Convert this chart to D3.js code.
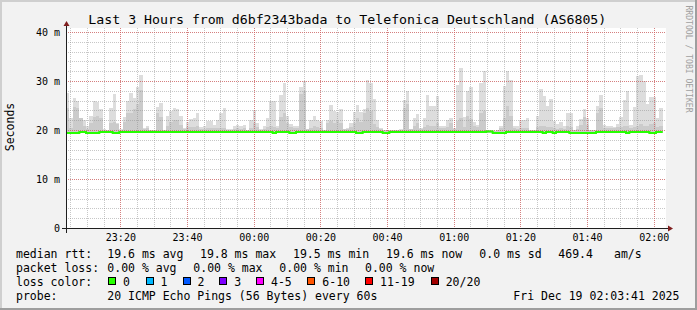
<!DOCTYPE html>
<html><head><meta charset="utf-8">
<script src="https://cdn.jsdelivr.net/npm/d3@7"></script>
<style>
body{margin:0;background:#f2f2f2}
svg{display:block}
text{font-family:'DejaVu Sans Mono',monospace;fill:#000}
</style>
</head><body>
<svg id="c" width="697" height="310"></svg>
<script>
// ---------- data ----------
const title = "Last 3 Hours from d6bf2343bada to Telefonica Deutschland (AS6805)";
const yTicks = [0, 10, 20, 30, 40];
const yTickLabels = ["0", "10 m", "20 m", "30 m", "40 m"];
const xTickLabels = ["23:20", "23:40", "00:00", "00:20", "00:40", "01:00", "01:20", "01:40", "02:00"];
const smokeMin = 19.4;
const smokeMax = [27.7,22.6,26.6,26.0,22.6,22.2,21.0,22.9,26.1,25.8,24.3,20.3,20.2,24.6,27.5,21.6,20.3,22.8,26.0,27.7,
26.7,28.9,31.3,20.5,21.0,20.1,20.2,24.8,25.6,20.2,22.9,23.9,24.6,24.3,22.9,20.5,21.7,22.4,22.6,23.6,
20.7,20.9,21.9,21.9,21.2,22.2,23.6,24.5,20.3,20.3,20.9,21.2,20.9,21.1,20.2,22.2,24.1,21.6,20.3,20.9,
22.6,26.1,26.1,21.0,27.2,29.6,22.9,21.4,20.9,20.9,28.9,30.1,20.3,22.1,22.9,22.1,21.9,20.2,22.2,25.3,
23.9,23.7,24.3,20.3,20.5,21.6,23.7,25.3,23.7,24.3,30.3,29.7,26.5,22.1,20.5,20.1,20.1,20.2,20.2,20.2,
20.3,26.3,28.0,20.3,22.6,23.3,20.5,22.6,27.2,25.1,25.1,27.1,20.9,20.9,22.2,22.6,20.5,29.2,32.8,22.8,
28.0,28.9,21.7,21.2,29.7,32.1,20.1,20.1,19.9,20.2,21.0,29.0,32.1,30.4,20.9,20.9,22.1,22.2,22.6,20.2,
20.2,22.9,28.5,27.0,25.1,26.5,21.9,21.4,21.7,20.9,23.6,23.5,20.2,21.0,22.4,24.4,22.6,20.2,20.1,25.1,
27.3,21.2,21.0,20.9,20.7,21.4,22.8,26.2,28.0,21.2,24.8,31.2,31.4,30.1,25.5,26.9,26.9,22.6,24.6];
const smokeMid = [24.5,20.6,24.8,24.5,22.5,21.0,20.3,21.5,22.8,23.0,22.5,20.2,20.2,21.5,21.8,21.4,20.2,21.8,23.5,23.5,
24.3,25.5,28.2,20.4,20.5,20.1,20.1,23.6,22.8,20.1,20.9,21.8,22.2,22.2,21.2,20.3,20.8,20.8,20.8,21.0,
20.4,20.4,20.6,20.6,20.6,20.5,20.5,20.5,20.2,20.2,20.3,20.6,20.4,20.6,20.2,20.5,21.5,20.8,20.2,20.4,
20.8,21.0,20.8,20.6,22.7,23.5,21.5,20.8,20.5,20.5,27.5,28.0,20.3,20.6,20.9,20.7,20.5,20.2,21.5,22.0,
21.5,22.0,21.5,20.3,20.4,20.8,21.5,22.5,21.8,23.5,24.5,24.0,21.3,20.8,20.3,20.1,20.1,20.2,20.2,20.2,
20.2,24.5,25.5,20.3,21.0,21.5,20.4,20.8,21.2,20.9,20.9,21.5,20.5,20.5,20.8,21.5,20.4,22.0,22.5,20.8,
23.0,22.3,21.0,20.8,23.5,24.0,20.1,20.1,19.9,20.1,20.5,22.5,25.0,23.0,20.5,20.4,20.5,20.6,20.6,20.2,
20.2,20.7,21.0,21.0,20.8,20.8,20.5,20.4,20.6,20.4,20.9,20.8,20.2,20.4,21.2,22.8,21.2,20.2,20.1,23.5,
24.5,20.6,20.5,20.5,20.5,20.8,20.8,21.0,21.0,20.5,20.8,20.9,21.4,21.0,21.0,21.3,21.5,20.7,21.0];
const median = [19.5,19.5,19.5,19.5,19.7,19.7,19.5,19.5,19.5,19.5,19.7,19.7,19.7,19.7,19.5,19.5,19.7,19.7,19.7,19.7,
19.7,19.7,19.7,19.7,19.7,19.7,19.7,19.7,19.7,19.7,19.7,19.7,19.7,19.7,19.7,19.7,19.7,19.7,19.7,19.7,
19.7,19.7,19.7,19.7,19.7,19.7,19.7,19.7,19.7,19.7,19.7,19.7,19.7,19.7,19.7,19.7,19.7,19.7,19.7,19.7,
19.7,19.7,19.5,19.7,19.7,19.7,19.7,19.5,19.5,19.7,19.7,19.7,19.7,19.7,19.7,19.7,19.7,19.7,19.7,19.7,
19.7,19.7,19.7,19.7,19.7,19.7,19.7,19.5,19.5,19.7,19.7,19.7,19.7,19.7,19.7,19.5,19.5,19.7,19.7,19.7,
19.7,19.7,19.7,19.7,19.7,19.7,19.7,19.7,19.7,19.7,19.7,19.7,19.7,19.7,19.7,19.7,19.7,19.7,19.7,19.7,
19.7,19.7,19.7,19.7,19.7,19.7,19.8,19.8,19.5,19.5,19.5,19.5,19.7,19.7,19.7,19.7,19.7,19.7,19.7,19.7,
19.7,19.7,19.7,19.5,19.7,19.7,19.5,19.7,19.7,19.7,19.7,19.5,19.5,19.5,19.5,19.5,19.5,19.5,19.5,19.7,
19.7,19.7,19.7,19.7,19.7,19.7,19.7,19.7,19.5,19.7,19.7,19.7,19.7,19.7,19.7,19.5,19.5,19.7,19.7];
const rttLabel = "median rtt:";
const rttStats = ["19.6 ms avg", "19.8 ms max", "19.5 ms min", "19.6 ms now", "0.0 ms sd", "469.4", "am/s"];
const lossLabel = "packet loss:";
const lossStats = ["0.00 % avg", "0.00 % max", "0.00 % min", "0.00 % now"];
const lossColorLabel = "loss color:";
const lossNames = ["0", "1", "2", "3", "4-5", "6-10", "11-19", "20/20"];
const lossColors = ["#26ff00", "#00b8ff", "#0059ff", "#7e00ff", "#ff00ff", "#ff5500", "#ff0000", "#a10000"];
const probeLabel = "probe:";
const probeText = "20 ICMP Echo Pings (56 Bytes) every 60s";
const stampText = "Fri Dec 19 02:03:41 2025";
const yTitle = "Seconds";
const watermark = "RRDTOOL / TOBI OETIKER";

// ---------- layout ----------
const W = 697, H = 310;
const X0 = 66, XS = 600, Y0 = 228.5, YTOP = 28;
const tStart = new Date(2025, 11, 18, 23, 3, 41);
const tEnd = new Date(2025, 11, 19, 2, 3, 41);
const x = d3.scaleTime().domain([tStart, tEnd]).range([X0, X0 + XS]);
const y = d3.scaleLinear().domain([0, 40]).range([Y0, 32.5]);
const stepT = i => new Date(tStart.getTime() + i * 60000);

const svg = d3.select("#c");
svg.append("rect").attr("width", W).attr("height", H).attr("fill", "#f2f2f2");
svg.append("path").attr("d", `M0,0H${W}V2H2V${H}H0Z`).attr("fill", "#cfcfcf");
svg.append("path").attr("d", `M${W},${H}H0V${H-2}H${W-2}V0H${W}Z`).attr("fill", "#9e9e9e");
svg.append("rect").attr("x", X0).attr("y", YTOP).attr("width", XS).attr("height", Y0 - YTOP).attr("fill", "#fff");

// smoke
const g = svg.append("g").attr("shape-rendering", "crispEdges");
const idx = d3.range(smokeMax.length);
g.selectAll("rect.l").data(idx).join("rect")
  .attr("x", i => x(stepT(i))).attr("width", i => x(stepT(i + 1)) - x(stepT(i)))
  .attr("y", i => y(smokeMax[i])).attr("height", i => y(smokeMin) - y(smokeMax[i]))
  .attr("fill", "#dddddd");
g.selectAll("rect.m").data(idx).join("rect")
  .attr("x", i => x(stepT(i))).attr("width", i => x(stepT(i + 1)) - x(stepT(i)))
  .attr("y", i => y(smokeMid[i])).attr("height", i => y(smokeMin) - y(smokeMid[i]))
  .attr("fill", "#cbcbcb");

// grid
const minorT = d3.timeMinute.every(5).range(tStart, tEnd);
const majorT = d3.timeMinute.every(20).range(tStart, tEnd);
const gridG = svg.append("g").attr("shape-rendering", "crispEdges");
const minorCol = "rgba(143,143,143,0.5)", majorCol = "rgba(222,79,79,0.6)";
minorT.forEach(t => {
  const px = Math.round(x(t)) + 0.5;
  gridG.append("line").attr("x1", px).attr("x2", px).attr("y1", YTOP).attr("y2", Y0)
    .attr("stroke", minorCol).attr("stroke-dasharray", "1,1");
});
d3.range(0, 41, 2).forEach(v => {
  const py = Math.round(y(v) - 0.5) + 0.5;
  gridG.append("line").attr("x1", X0).attr("x2", X0 + XS).attr("y1", py).attr("y2", py)
    .attr("stroke", minorCol).attr("stroke-dasharray", "1,1");
});
majorT.forEach(t => {
  const px = Math.round(x(t)) + 0.5;
  gridG.append("line").attr("x1", px).attr("x2", px).attr("y1", YTOP).attr("y2", Y0)
    .attr("stroke", majorCol).attr("stroke-dasharray", "1,1");
});
yTicks.forEach(v => {
  const py = Math.round(y(v) - 0.5) + 0.5;
  gridG.append("line").attr("x1", X0).attr("x2", X0 + XS).attr("y1", py).attr("y2", py)
    .attr("stroke", majorCol).attr("stroke-dasharray", "1,1");
});

// median line
const pts = idx.map(i => [x(stepT(i)), y(median[i])]);
pts.push([x(stepT(median.length)), y(median[median.length - 1])]);
svg.append("path").attr("d", d3.line().curve(d3.curveStepAfter)(pts))
  .attr("fill", "none").attr("stroke", lossColors[0]).attr("stroke-width", 2);

// axes
svg.append("line").attr("x1", X0 - 4).attr("x2", X0 + XS + 4).attr("y1", Y0).attr("y2", Y0)
  .attr("stroke", "#1f1f1f").attr("shape-rendering", "crispEdges");
svg.append("line").attr("x1", X0 + 0.5).attr("x2", X0 + 0.5).attr("y1", Y0 + 4).attr("y2", YTOP - 4)
  .attr("stroke", "#1f1f1f").attr("shape-rendering", "crispEdges");
svg.append("path").attr("d", `M${X0 + XS + 2},${Y0 - 3}L${X0 + XS + 7},${Y0}L${X0 + XS + 2},${Y0 + 3}Z`).attr("fill", "#801f1f");
svg.append("path").attr("d", `M${X0 - 2.5},${YTOP - 2}L${X0 + 0.5},${YTOP - 7}L${X0 + 3.5},${YTOP - 2}Z`).attr("fill", "#801f1f");

// y tick labels
yTicks.forEach((v, i) => {
  svg.append("text").attr("x", 60).attr("y", y(v) + 3.6).attr("text-anchor", "end")
    .attr("font-size", "10px").text(yTickLabels[i]);
});
// x tick labels
majorT.forEach((t, i) => {
  svg.append("text").attr("x", x(t) + 0.5).attr("y", 241).attr("text-anchor", "middle")
    .attr("font-size", "10px").text(xTickLabels[i]);
});

// title
svg.append("text").attr("x", 88.3).attr("y", 24)
  .attr("font-size", "13px").attr("textLength", 518).attr("lengthAdjust", "spacingAndGlyphs").text(title);
// y title
svg.append("text").attr("transform", "translate(14,127) rotate(-90)").attr("text-anchor", "middle")
  .attr("font-size", "11.5px").text(yTitle);
// watermark
svg.append("text").attr("transform", "translate(685.5,59) rotate(90)").attr("text-anchor", "middle")
  .attr("font-size", "8.1px").style("fill", "#a0a0a0").text(watermark);

// legend
const LF = "11.5px";
const leg = (txt, px, py) => svg.append("text").attr("x", px).attr("y", py).attr("font-size", LF)
  .attr("xml:space", "preserve").text(txt);
leg(rttLabel, 16, 258.3);
[107.3, 200, 293, 386, 479.3, 558.3, 614].forEach((px, i) => leg(rttStats[i], px, 258.3));
leg(lossLabel, 16, 272.3);
[107.3, 193.3, 279.3, 365].forEach((px, i) => leg(lossStats[i], px, 272.3));
leg(lossColorLabel, 16, 286);
[108, 145.5, 182.5, 219.3, 256, 307.3, 365, 430.7].forEach((px, i) => {
  svg.append("rect").attr("x", Math.round(px) + 0.5).attr("y", 277).attr("width", 7).attr("height", 7)
    .attr("fill", lossColors[i]).attr("stroke", "#000").attr("shape-rendering", "crispEdges");
  leg(lossNames[i], px + 15, 286);
});
leg(probeLabel, 16, 300.3);
leg(probeText, 107.3, 300.3);
leg(stampText, 513.3, 300.3);
</script>
</body></html>
